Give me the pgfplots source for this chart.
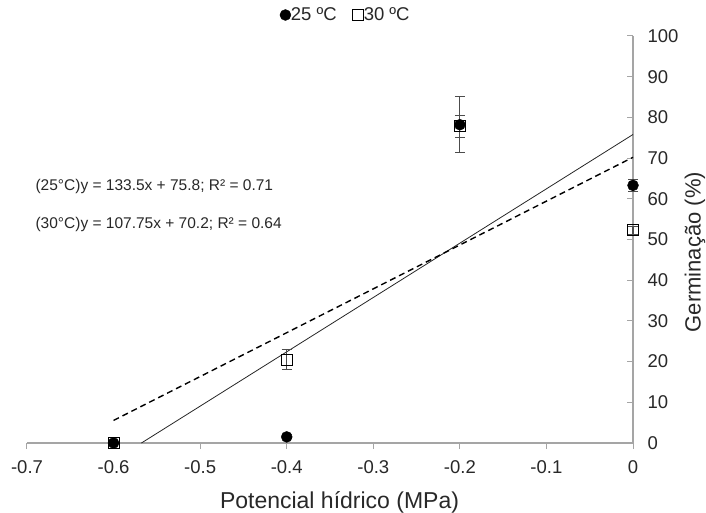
\documentclass[border=0pt]{standalone}
\usepackage{pgfplots}
\pgfplotsset{compat=1.18}
\usepackage{fontspec}
\setmainfont{Liberation Sans}
\definecolor{axgray}{RGB}{165,165,165}
\definecolor{txt}{RGB}{40,40,40}
\begin{document}
\begin{tikzpicture}
\path[use as bounding box] (-27pt,-70pt) rectangle (679pt,443pt);
\begin{axis}[
  at={(0pt,0pt)}, anchor=south west,
  scale only axis, width=606pt, height=407pt,
  xmin=-0.7, xmax=0, ymin=0, ymax=100,
  axis x line=bottom, axis y line=right,
  axis line style={-, draw=axgray, line width=1.2pt},
  xtick={-0.7,-0.6,-0.5,-0.4,-0.3,-0.2,-0.1,0}, ytick={0,10,...,100},
  major tick style={draw=axgray, line width=1pt},
  major tick length=6pt,
  xtick align=outside, ytick align=inside,
  /pgf/number format/assume math mode=true,
  xticklabel style={/pgf/number format/fixed, /pgf/number format/precision=1, font=\fontsize{18.5}{20}\selectfont, text=txt, yshift=-8pt},
  yticklabel style={font=\fontsize{18.5}{20}\selectfont, text=txt, anchor=west, xshift=11pt},
  clip=false,
  reverse legend,
  legend style={draw=none, fill=none, at={(0.526,1.0516)}, anchor=center,
    font=\fontsize{18.5}{20}\selectfont, text=txt, legend columns=2,
    /tikz/every even column/.append style={column sep=14pt},
    /tikz/every odd column/.append style={column sep=-2pt}},
  legend cell align=left,
]
% regression lines
\addplot[black!85, line width=0.8pt, forget plot] coordinates {(-0.5678,0) (0,75.8)};
\addplot[black, line width=1.4pt, dash pattern=on 6pt off 4pt, forget plot] coordinates {(-0.6,5.55) (0,70.2)};
% 30 C open squares
\addplot[only marks, mark=square, mark size=5.5pt, black, line width=0.9pt,
  error bars/.cd, y dir=both, y explicit,
  error bar style={draw=black!70, line width=1.1pt},
  error mark options={rotate=90, mark size=5pt, line width=1.1pt, draw=black!70}]
  coordinates {(-0.6,0) +- (0,0) (-0.4,20.5) +- (0,2.5) (-0.2,77.8) +- (0,2.7) (0,52.3) +- (0,1.0)};
% 25 C filled circles
\addplot[only marks, mark=*, mark size=5.5pt, black,
  error bars/.cd, y dir=both, y explicit,
  error bar style={draw=black!70, line width=1.1pt},
  error mark options={rotate=90, mark size=5pt, line width=1.1pt, draw=black!70}]
  coordinates {(-0.6,0) +- (0,0) (-0.4,1.5) +- (0,0.5) (-0.2,78.2) +- (0,6.9) (0,63.3) +- (0,1.5)};
\legend{30 ºC, 25 ºC}
\node[anchor=west, font=\fontsize{15.5}{18}\selectfont, text=txt] at (axis cs:-0.6942,63.1) {(25°C)y = 133.5x + 75.8; R² = 0.71};
\node[anchor=west, font=\fontsize{15.5}{18}\selectfont, text=txt] at (axis cs:-0.6942,53.8) {(30°C)y = 107.75x + 70.2; R² = 0.64};
\node[rotate=90, font=\fontsize{22}{24}\selectfont, text=txt] at (axis cs:0.0716,46.9) {Germinação (\%)};
\node[font=\fontsize{23}{26}\selectfont, text=txt] at (axis cs:-0.339,-14.5) {Potencial hídrico (MPa)};
\end{axis}
\end{tikzpicture}
\end{document}
